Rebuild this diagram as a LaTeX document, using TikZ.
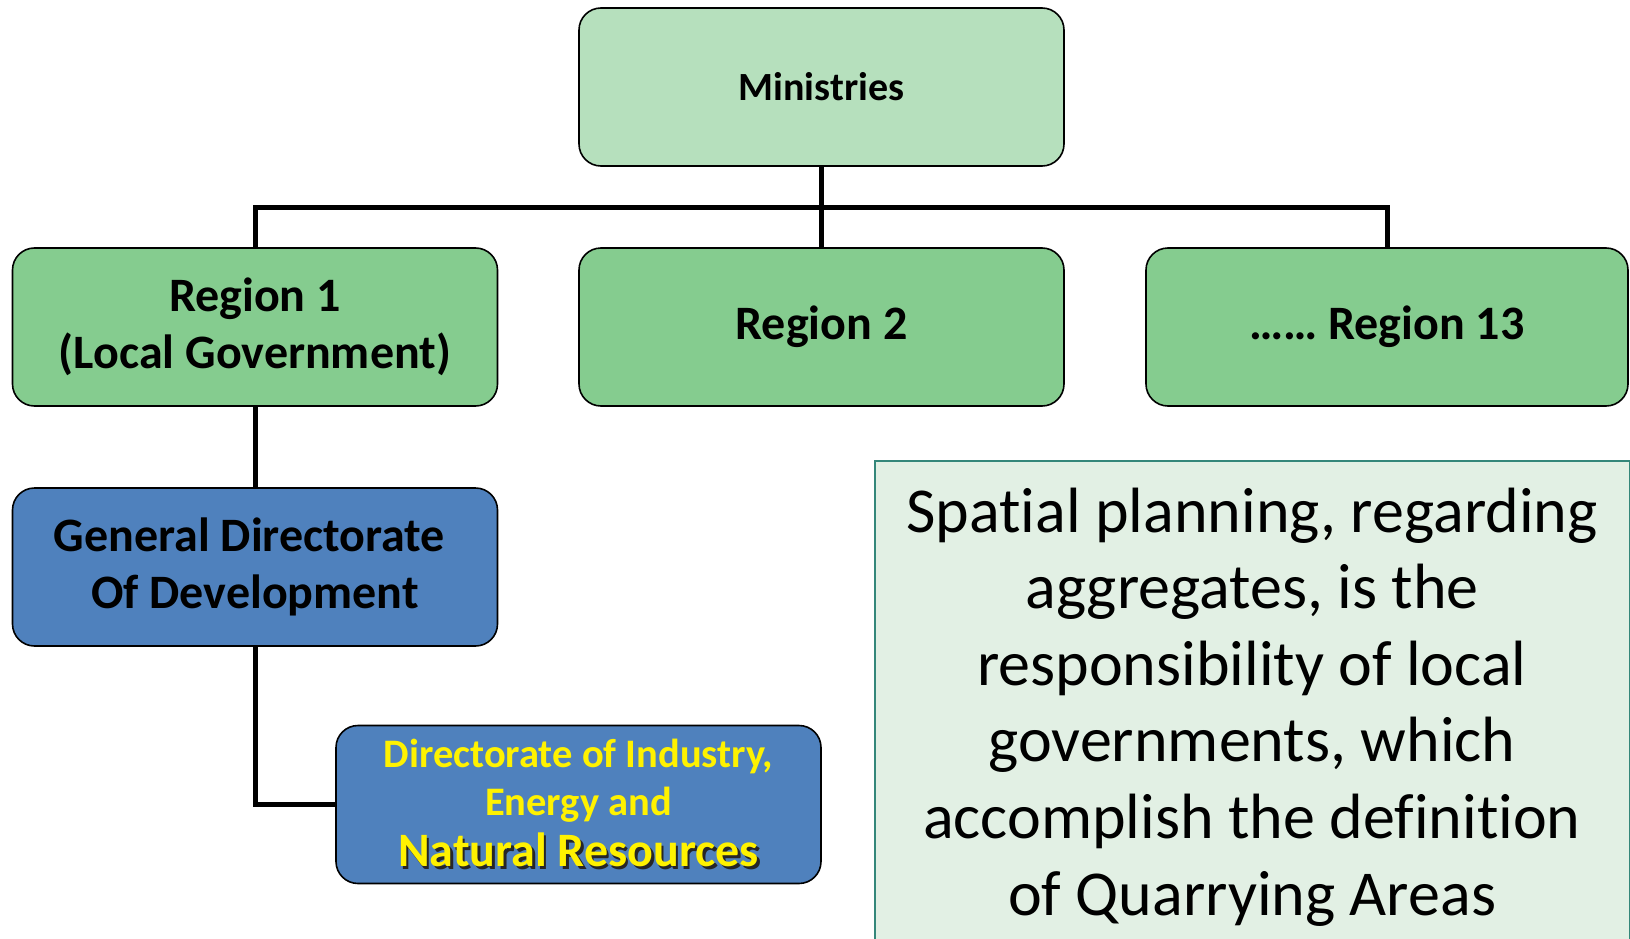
\documentclass[tikz,border=0pt]{standalone}
\usepackage{fontspec}
\setmainfont[Ligatures=NoCommon]{Carlito}
\definecolor{minfill}{RGB}{182,224,189}
\definecolor{regfill}{RGB}{133,204,143}
\definecolor{dirblue}{RGB}{79,129,189}
\definecolor{notefill}{RGB}{226,240,228}
\definecolor{notebord}{RGB}{52,135,122}
\newcommand\shadowtxt[1]{\makebox[0pt][l]{\hspace{2.5pt}\raisebox{-2.5pt}{\color{black!85}#1}}#1}
\begin{document}
\begin{tikzpicture}[x=1pt,y=-1pt,
  box/.style={draw=black, line width=1.6pt, rounded corners=22pt,
    minimum width=485pt, minimum height=158pt, inner sep=0pt, align=center,
    font=\bfseries\fontsize{48}{57}\selectfont},
  headbox/.style={box, fill=minfill, font=\bfseries\fontsize{40}{48}\selectfont},
  region/.style={box, fill=regfill},
  dirbox/.style={box, fill=dirblue},
  link/.style={line width=5pt, draw=black},
]
\useasboundingbox (0,0) rectangle (1630,939);
\clip (0,0) rectangle (1630,939);

% hierarchy boxes
\node[headbox] (min) at (821.5,87) {Ministries};
\node[region] (r1) at (255,327) {Region 1\\(Local Government)};
\node[region] (r2) at (821.5,327) {Region 2};
\node[region, minimum width=482pt] (r13) at (1387,327) {…… Region 13};
\node[dirbox] (gd) at (255,567) {General Directorate\hspace*{0.23em}\\Of Development};
\node[dirbox, text=yellow, font=\bfseries\fontsize{40.5}{48}\selectfont] (dien) at (578.5,804.5)
  {Directorate of Industry,\\Energy and\\[3pt]{\fontsize{48}{53}\selectfont\shadowtxt{Natural Resources}}};

% connectors
\draw[link] (min.south) -- (r2.north);
\draw[link] (r1.north) -- ++(0,-40) -| (r13.north);
\draw[link] (r1.south) -- (gd.north);
\draw[link] (gd.south) |- (dien.west);

% note panel
\node[draw=notebord, line width=1.5pt, fill=notefill, minimum width=755pt,
  minimum height=520pt, anchor=north west, inner sep=0pt] (note) at (874,460) {};
\node[anchor=base, align=center, font=\fontsize{64}{76.6}\selectfont] (notetext) at (1252,915)
  {Spatial planning, regarding\\aggregates, is the\\responsibility of local\\governments, which\\accomplish the definition\\of Quarrying Areas};
\end{tikzpicture}
\end{document}
